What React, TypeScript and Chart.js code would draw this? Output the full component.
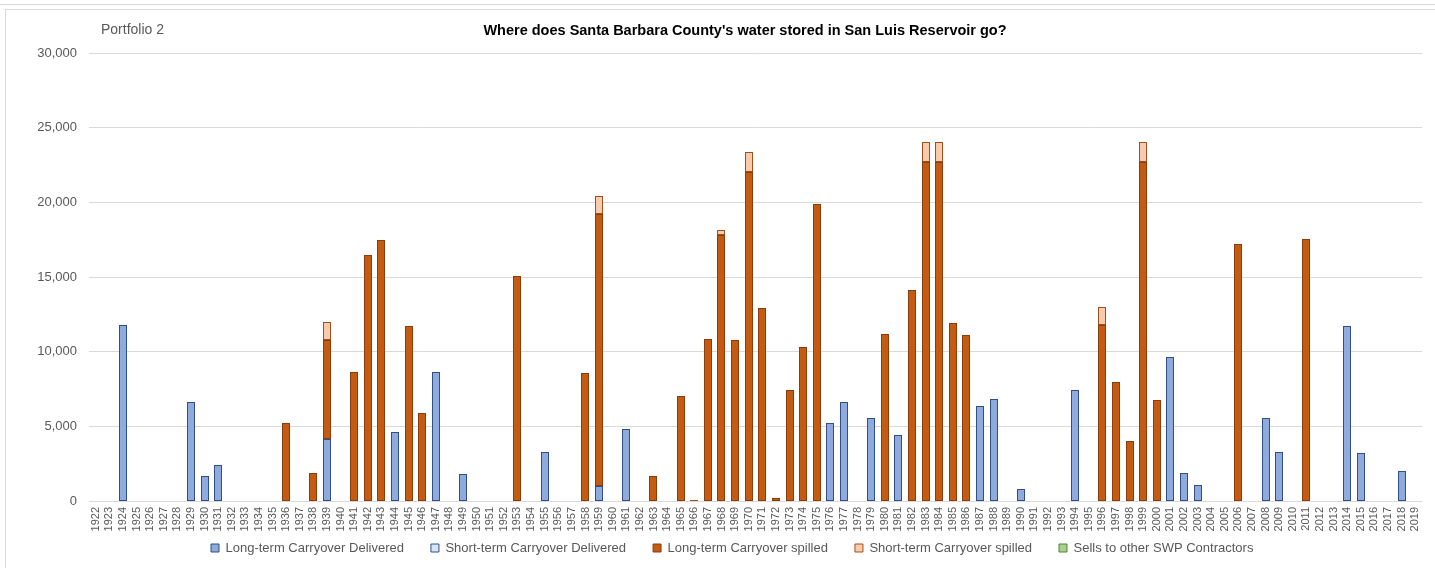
import React, { useEffect, useRef } from "react";
import { Chart, registerables } from "chart.js";

Chart.register(...registerables);

// ---------- DATA ----------
const firstYear = 1922;
const lastYear = 2019;
const years: string[] = [];
for (let y = firstYear; y <= lastYear; y++) years.push(String(y));

const yTicks: number[] = [0, 5000, 10000, 15000, 20000, 25000, 30000];

const seriesNames: string[] = [
  "Long-term Carryover Delivered",
  "Short-term Carryover Delivered",
  "Long-term Carryover spilled",
  "Short-term Carryover spilled",
  "Sells to other SWP Contractors",
];

// [year, acre-feet]
const longTermDelivered: [number, number][] = [
  [1924, 11800], [1929, 6600], [1930, 1650], [1931, 2400], [1939, 4150],
  [1944, 4650], [1947, 8650], [1949, 1800], [1955, 3250], [1959, 1000],
  [1961, 4800], [1976, 5200], [1977, 6600], [1979, 5550], [1981, 4450],
  [1987, 6350], [1988, 6800], [1990, 800], [1994, 7400], [2001, 9650],
  [2002, 1900], [2003, 1100], [2008, 5550], [2009, 3250], [2014, 11700],
  [2015, 3200], [2018, 2000],
];

const shortTermDelivered: [number, number][] = [];

const longTermSpilled: [number, number][] = [
  [1936, 5200], [1938, 1900], [1939, 6600], [1941, 8650], [1942, 16450],
  [1943, 17450], [1945, 11750], [1946, 5900], [1953, 15100], [1958, 8550],
  [1959, 18200], [1963, 1700], [1965, 7050], [1967, 10850], [1968, 17800],
  [1969, 10800], [1970, 22050], [1971, 12900], [1972, 200], [1973, 7450],
  [1974, 10300], [1975, 19900], [1980, 11200], [1982, 14100], [1983, 22700],
  [1984, 22700], [1985, 11900], [1986, 11100], [1996, 11800], [1997, 7950],
  [1998, 4050], [1999, 22700], [2000, 6750], [2006, 17200], [2011, 17550],
];

const shortTermSpilled: [number, number][] = [
  [1939, 1250], [1959, 1250], [1966, 80], [1968, 350], [1970, 1300],
  [1983, 1350], [1984, 1350], [1996, 1200], [1999, 1350],
];

const sellsToContractors: [number, number][] = [];

// ---------- STYLE ----------
const fills = ["#8FAADC", "#DAE3F3", "#C55A11", "#F8CBAD", "#A9D18E"];
const borders = ["#2F4F86", "#2F528F", "#8A3E0D", "#A0501C", "#548235"];

const toSeries = (pairs: [number, number][]) => {
  const m = new Map<number, number>(pairs);
  return years.map((y) => (m.has(Number(y)) ? (m.get(Number(y)) as number) : null));
};

const CANVAS_W = 1429;
const CANVAS_H = 577;
const FONT = "'Liberation Sans', Arial, sans-serif";

const overlayPlugin = {
  id: "overlay",
  afterLayout(chart: any) {
    const lg = chart.legend;
    if (!lg) return;
    const dy = 504.5 - lg.top;
    lg.top += dy;
    lg.bottom += dy;
    lg.left = 178;
    lg.right = 178 + 1240;
  },
  beforeDatasetsDraw(chart: any) {
    // snap bars to whole pixels so the thin borders stay crisp
    chart.data.datasets.forEach((_: any, i: number) => {
      const meta = chart.getDatasetMeta(i);
      meta.data.forEach((el: any) => {
        el.x = Math.round(el.x);
        el.width = 8;
        el.y = Math.round(el.y);
        el.base = Math.round(el.base);
      });
    });
  },
  afterDraw(chart: any) {
    const ctx = chart.ctx;
    ctx.save();
    ctx.textBaseline = "middle";
    ctx.fillStyle = "#595959";
    ctx.font = `14px ${FONT}`;
    ctx.textAlign = "left";
    ctx.fillText("Portfolio 2", 95, 20);
    ctx.fillStyle = "#000000";
    ctx.font = `bold 14.5px ${FONT}`;
    ctx.textAlign = "center";
    ctx.fillText(
      "Where does Santa Barbara County's water stored in San Luis Reservoir go?",
      739,
      21
    );
    ctx.restore();
  },
};

export default function App() {
  const ref = useRef<HTMLCanvasElement | null>(null);

  useEffect(() => {
    if (!ref.current) return;
    const allSeries = [
      longTermDelivered,
      shortTermDelivered,
      longTermSpilled,
      shortTermSpilled,
      sellsToContractors,
    ];
    const chart = new Chart(ref.current, {
      type: "bar",
      data: {
        labels: years,
        datasets: allSeries.map((s, i) => ({
          label: seriesNames[i],
          data: toSeries(s),
          backgroundColor: fills[i],
          borderColor: borders[i],
          borderWidth: 1,
          borderSkipped: false,
          barPercentage: 0.6,
          categoryPercentage: 1,
        })),
      },
      options: {
        animation: false,
        responsive: false,
        devicePixelRatio: 1,
        layout: { padding: { top: 43, left: 0, right: 13, bottom: 0 } },
        plugins: {
          title: { display: false },
          tooltip: { enabled: false },
          legend: {
            display: true,
            position: "bottom",
            align: "start",
            labels: {
              boxWidth: 8,
              boxHeight: 8,
              padding: 27,
              color: "#595959",
              font: { size: 13, family: FONT },
            },
          },
        },
        scales: {
          x: {
            stacked: true,
            grid: { display: false, drawTicks: false },
            border: { display: false },
            afterFit: (s: any) => {
              s.height = 36;
            },
            ticks: {
              autoSkip: false,
              minRotation: 90,
              maxRotation: 90,
              padding: 6,
              color: "#595959",
              font: { size: 11, family: FONT },
            },
          },
          y: {
            stacked: true,
            min: yTicks[0],
            max: yTicks[yTicks.length - 1],
            afterFit: (s: any) => {
              s.width = 83;
            },
            afterBuildTicks: (s: any) => {
              s.ticks = yTicks.map((v) => ({ value: v }));
            },
            grid: { color: "#D9D9D9", lineWidth: 1, drawTicks: false },
            border: { display: false },
            ticks: {
              padding: 12,
              color: "#595959",
              font: { size: 13, family: FONT },
              callback: (v: any) => Number(v).toLocaleString("en-US"),
            },
          },
        },
      },
      plugins: [overlayPlugin],
    });
    return () => chart.destroy();
  }, []);

  return (
    <div
      style={{
        position: "fixed",
        left: 0,
        top: 0,
        width: 1435,
        height: 568,
        overflow: "hidden",
        background: "#ffffff",
      }}
    >
      <div
        style={{
          position: "absolute",
          left: 0,
          top: 4,
          width: 1435,
          height: 0,
          borderTop: "1px solid #D9D9D9",
        }}
      />
      <div
        style={{
          position: "absolute",
          left: 5,
          top: 9,
          width: 1460,
          height: 600,
          border: "1px solid #D9D9D9",
        }}
      />
      <canvas
        ref={ref}
        width={CANVAS_W}
        height={CANVAS_H}
        style={{
          position: "absolute",
          left: 6,
          top: 10,
          width: CANVAS_W,
          height: CANVAS_H,
        }}
      />
    </div>
  );
}
